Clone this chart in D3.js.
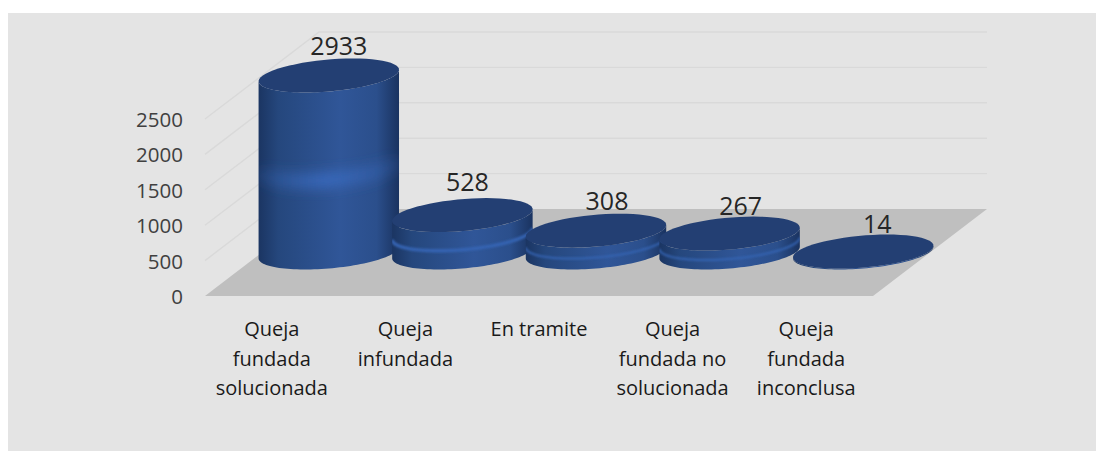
<!DOCTYPE html>
<html>
<head>
<meta charset="utf-8">
<script src="https://cdn.jsdelivr.net/npm/d3@7"></script>
<style>
  html, body { margin: 0; padding: 0; background: #fff; }
  text { font-family: "Open Sans", sans-serif; }
</style>
</head>
<body>
<div id="chart"></div>
<script>
var categories = [
  ["Queja", "fundada", "solucionada"],
  ["Queja", "infundada"],
  ["En tramite"],
  ["Queja", "fundada no", "solucionada"],
  ["Queja", "fundada", "inconclusa"]
];
var values = [2933, 528, 308, 267, 14];
var yTicks = [0, 500, 1000, 1500, 2000, 2500];

var width = 1097, height = 451;
var floor = {left: 205, right: 873, bottom: 296, dx: 114, dy: 87};

var svg = d3.select("#chart").append("svg")
    .attr("width", width)
    .attr("height", height)
    .style("display", "block");

// grey panel
svg.append("rect")
    .attr("x", 8).attr("y", 13)
    .attr("width", width - 9).attr("height", height - 13)
    .attr("fill", "#e4e4e4");

var x = d3.scaleBand().domain(d3.range(values.length)).range([floor.left, floor.right]);
// the axis tops out at 2500, the first cylinder gets cut there
var y = d3.scaleLinear().domain([0, 2500]).range([0, 177]).clamp(true);

var defs = svg.append("defs");
var grad = defs.append("linearGradient").attr("id", "side");
grad.selectAll("stop")
    .data([[0, "#1b3562"], [0.14, "#25477d"], [0.58, "#305698"], [0.84, "#2b4f8c"], [1, "#1a3360"]])
  .enter().append("stop")
    .attr("offset", function(d) { return d[0]; })
    .attr("stop-color", function(d) { return d[1]; });

var glowGrad = defs.append("linearGradient").attr("id", "glowFade");
glowGrad.selectAll("stop")
    .data([[0, 0.15], [0.5, 1], [1, 0.15]])
  .enter().append("stop")
    .attr("offset", function(d) { return d[0]; })
    .attr("stop-color", "#3868ba")
    .attr("stop-opacity", function(d) { return d[1]; });

defs.append("filter").attr("id", "glow").attr("x", "-20%").attr("y", "-200%").attr("width", "140%").attr("height", "500%")
  .append("feGaussianBlur").attr("stdDeviation", 6);
defs.append("filter").attr("id", "glowSmall").attr("x", "-20%").attr("y", "-200%").attr("width", "140%").attr("height", "500%")
  .append("feGaussianBlur").attr("stdDeviation", 0.9);

// floor
svg.append("path")
    .attr("d", "M" + floor.left + "," + floor.bottom + "L" + floor.right + "," + floor.bottom +
      "L" + (floor.right + floor.dx) + "," + (floor.bottom - floor.dy) +
      "L" + (floor.left + floor.dx) + "," + (floor.bottom - floor.dy) + "Z")
    .attr("fill", "#bfbfbf");

// wall lines
var grid = svg.append("g").attr("fill", "none").attr("stroke", "#d9d9d9").attr("stroke-width", 1.4);
yTicks.slice(1).forEach(function(t) {
  var yy = floor.bottom - y(t);
  grid.append("path")
      .attr("d", "M" + floor.left + "," + yy + "L" + (floor.left + floor.dx) + "," + (yy - floor.dy) +
        "L" + (floor.right + floor.dx) + "," + (yy - floor.dy));
});

// axis labels
svg.append("g").selectAll("text")
    .data(yTicks)
  .enter().append("text")
    .attr("x", 183)
    .attr("y", function(d) { return floor.bottom - y(d); })
    .attr("dy", ".39em")
    .attr("text-anchor", "end")
    .attr("font-size", 20.5)
    .attr("fill", "#404040")
    .text(function(d) { return d; });

var cats = svg.append("g").selectAll("text")
    .data(categories)
  .enter().append("text")
    .attr("font-size", 20)
    .attr("fill", "#1a1a1a")
    .attr("text-anchor", "middle");
cats.selectAll("tspan")
    .data(function(d, i) { return d.map(function(s) { return {s: s, i: i}; }); })
  .enter().append("tspan")
    .attr("x", function(d) { return x(d.i) + x.bandwidth() / 2; })
    .attr("y", function(d, j) { return 336 + j * 29.5; })
    .text(function(d) { return d.s; });

// sheared circle: rx across, (vx, vy) along the floor depth
var rx = 66, vx = 24, vy = 17;
function ring(cx, cy, a0, a1) {
  return d3.range(0, 61).map(function(k) {
    var t = a0 + (a1 - a0) * k / 60;
    return [cx + rx * Math.cos(t) + vx * Math.sin(t), cy - vy * Math.sin(t)];
  });
}
// angle of the right-hand silhouette point
var tRight = Math.atan2(vx, rx);
var line = d3.line();

var labelNudgeX = [10, 5, 11, 11, 14];
var labelNudgeY = [4, 7, 4, 2, 2];

var bars = svg.append("g").selectAll("g")
    .data(values)
  .enter().append("g");

bars.each(function(v, i) {
  var g = d3.select(this);
  var cx = x(i) + x.bandwidth() / 2 + floor.dx / 2,
      base = floor.bottom - floor.dy / 2,
      top = base - y(v),
      h = y(v);

  var front = ring(cx, base, tRight, tRight - Math.PI);
  var back = ring(cx, top, tRight - Math.PI, tRight);
  var bodyId = "body" + i;

  defs.append("clipPath").attr("id", bodyId)
    .append("path").attr("d", line(front.concat(back)) + "Z");

  g.append("path")
      .attr("d", line(front.concat(back)) + "Z")
      .attr("fill", "url(#side)");

  // light band round the middle of the body
  if (h > 4) {
    g.append("g").attr("clip-path", "url(#" + bodyId + ")")
      .append("path")
        .attr("d", line(ring(cx, base - h / 2, tRight, tRight - Math.PI)))
        .attr("fill", "none")
        .attr("stroke", h > 60 ? "url(#glowFade)" : "#3564b2")
        .attr("stroke-width", h > 60 ? 16 : Math.max(2, h * 0.09))
        .attr("filter", h > 60 ? "url(#glow)" : "url(#glowSmall)");
  }

  g.append("path")
      .attr("d", line(ring(cx, top, 0, 2 * Math.PI)) + "Z")
      .attr("fill", "#233f73");

  g.append("text")
      .attr("x", cx + labelNudgeX[i])
      .attr("y", top - vy - labelNudgeY[i])
      .attr("text-anchor", "middle")
      .attr("font-size", 25)
      .attr("fill", "#262626")
      .text(v);
});
</script>
</body>
</html>
